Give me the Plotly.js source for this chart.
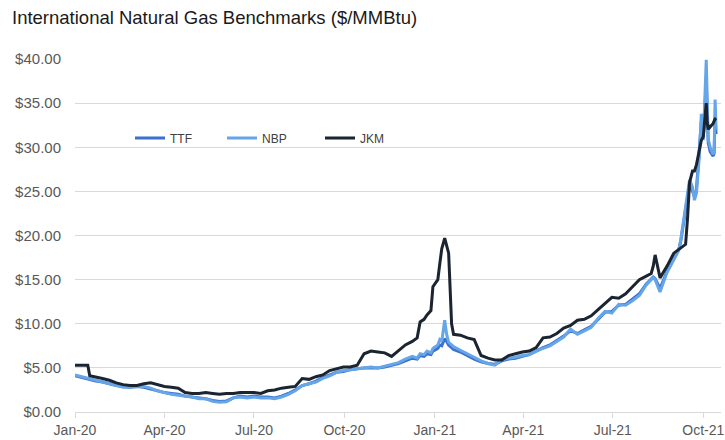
<!DOCTYPE html>
<html>
<head>
<meta charset="utf-8">
<script src="https://cdn.plot.ly/plotly-3.0.1.min.js"></script>
<style>html,body{margin:0;padding:0;background:#fff;}#chart{width:725px;height:440px;}</style>
</head>
<body>
<div id="chart"></div>
<script>
const dates = [
"2020-01-01","2020-01-08","2020-01-14","2020-01-16","2020-01-22","2020-01-29","2020-02-05","2020-02-12","2020-02-19","2020-02-26",
"2020-03-04","2020-03-11","2020-03-18","2020-03-25","2020-04-01","2020-04-08","2020-04-15","2020-04-22","2020-04-29","2020-05-06",
"2020-05-13","2020-05-20","2020-05-27","2020-06-03","2020-06-10","2020-06-17","2020-06-24","2020-07-01","2020-07-08","2020-07-15",
"2020-07-22","2020-07-29","2020-08-05","2020-08-12","2020-08-19","2020-08-26","2020-09-02","2020-09-09","2020-09-16","2020-09-23",
"2020-09-30","2020-10-07","2020-10-14","2020-10-21","2020-10-28","2020-11-04","2020-11-11","2020-11-18","2020-11-25","2020-12-02",
"2020-12-09","2020-12-14","2020-12-17","2020-12-21","2020-12-24","2020-12-28","2020-12-30",
"2021-01-04","2021-01-06","2021-01-08","2021-01-11","2021-01-13","2021-01-15","2021-01-18","2021-01-20","2021-01-27",
"2021-02-03","2021-02-10","2021-02-17","2021-02-24","2021-03-03","2021-03-10","2021-03-17","2021-03-24","2021-03-31",
"2021-04-07","2021-04-14","2021-04-21","2021-04-28","2021-05-05","2021-05-12","2021-05-19","2021-05-26","2021-06-02",
"2021-06-09","2021-06-16","2021-06-23","2021-06-30","2021-07-07","2021-07-14","2021-07-21","2021-07-28","2021-08-04",
"2021-08-09","2021-08-11","2021-08-13","2021-08-18","2021-08-25","2021-09-01","2021-09-06","2021-09-08","2021-09-13",
"2021-09-15","2021-09-17","2021-09-20","2021-09-22","2021-09-24","2021-09-27","2021-09-29","2021-10-01","2021-10-04",
"2021-10-05","2021-10-06","2021-10-07","2021-10-08","2021-10-11","2021-10-12","2021-10-13","2021-10-14"
];

const ttf = [
4.1,3.9,3.8,3.7,3.5,3.4,3.2,3.0,2.9,2.8,
2.9,2.8,2.6,2.4,2.2,2.1,2.0,1.8,1.7,1.6,
1.5,1.3,1.2,1.25,1.6,1.8,1.7,1.8,1.7,1.7,
1.6,1.8,2.1,2.5,3.0,3.2,3.5,3.9,4.2,4.5,
4.6,4.8,4.9,5.0,5.0,5.0,5.1,5.3,5.5,5.8,
6.1,6.0,6.4,6.3,6.6,6.5,6.9,
7.2,7.6,7.5,8.3,8.0,7.6,7.3,7.1,6.8,
6.4,6.0,5.7,5.5,5.4,5.8,6.0,6.1,6.3,
6.5,6.9,7.3,7.6,8.1,8.6,9.2,8.9,9.3,
9.7,10.5,11.3,11.4,12.1,12.2,12.8,13.4,14.5,
15.0,15.3,15.1,14.0,15.9,17.3,18.4,19.3,22.8,
24.5,25.8,25.0,24.5,25.2,29.5,33.0,31.0,37.5,
34.0,30.5,30.0,29.5,29.0,29.3,33.5,31.5
];

const nbp = [
4.2,4.0,3.9,3.8,3.6,3.4,3.2,3.0,2.8,2.8,
2.9,2.9,2.7,2.4,2.2,2.0,1.9,1.8,1.7,1.5,
1.5,1.2,1.1,1.15,1.6,1.7,1.6,1.7,1.6,1.6,
1.5,1.7,2.0,2.4,3.0,3.2,3.4,3.8,4.1,4.5,
4.7,4.8,4.9,5.0,5.1,5.0,5.2,5.4,5.6,6.0,
6.3,6.1,6.6,6.5,6.9,6.7,7.2,
7.6,8.2,8.0,10.4,8.8,7.9,7.6,7.4,7.0,
6.6,6.2,5.8,5.5,5.3,5.9,6.1,6.2,6.4,
6.5,6.9,7.2,7.5,8.0,8.5,9.4,8.8,9.2,
9.6,10.6,11.4,11.2,12.2,12.1,12.6,13.2,14.4,
15.0,15.2,15.0,13.6,15.8,17.2,18.3,19.5,23.6,
25.0,26.3,25.5,24.0,24.8,29.0,33.8,30.8,39.9,
34.6,30.8,30.5,30.0,29.2,29.5,35.4,32.0
];

const jkm = [
5.3,5.3,5.3,4.1,4.0,3.8,3.6,3.3,3.1,3.0,
3.0,3.2,3.3,3.1,2.9,2.8,2.7,2.2,2.1,2.1,
2.2,2.1,2.0,2.1,2.1,2.2,2.2,2.2,2.1,2.4,
2.5,2.7,2.8,2.9,3.8,3.7,4.0,4.2,4.7,4.9,
5.1,5.1,5.3,6.6,6.9,6.8,6.7,6.3,7.0,7.6,
8.0,8.4,10.2,10.5,11.0,11.5,14.2,
15.0,16.8,18.5,19.7,18.8,18.0,10.0,8.8,8.7,
8.4,8.2,6.4,6.1,5.9,5.9,6.4,6.6,6.8,
6.9,7.3,8.4,8.5,8.9,9.5,9.8,10.4,10.5,
10.9,11.6,12.3,13.0,12.9,13.4,14.2,15.0,15.4,
15.7,16.5,17.8,15.2,16.5,18.0,18.4,18.6,19.0,
22.0,26.0,27.3,27.3,28.0,29.5,30.8,31.2,35.0,
32.8,32.0,32.5,32.3,32.7,33.0,33.2,33.3
];

const seriesNames = ["TTF","NBP","JKM"];
const seriesColors = ["#3b6fd0","#64a6e8","#1b2431"];
const tickDates = ["2020-01-01","2020-04-01","2020-07-01","2020-10-01","2021-01-01","2021-04-01","2021-07-01","2021-10-01"];
const tickText = ["Jan-20","Apr-20","Jul-20","Oct-20","Jan-21","Apr-21","Jul-21","Oct-21"];
const yTicks = [0,5,10,15,20,25,30,35,40];
const yTickText = ["$0.00","$5.00","$10.00","$15.00","$20.00","$25.00","$30.00","$35.00","$40.00"];

const values = [ttf, nbp, jkm];
const legendIds = ["legend","legend2","legend3"];
const traces = values.map((v, i) => ({
  type: "scatter", mode: "lines", x: dates, y: v, name: seriesNames[i],
  line: {color: seriesColors[i], width: 3}, legend: legendIds[i]
}));

const FONT = "Liberation Sans, Arial, sans-serif";
const legendBase = {orientation: "h", y: 0.776, yanchor: "middle", xanchor: "left",
  bgcolor: "rgba(0,0,0,0)", font: {family: FONT, size: 12, color: "#404040"}, borderwidth: 0};

const layout = {
  width: 725, height: 440,
  margin: {l: 75, r: 4, t: 59, b: 28},
  paper_bgcolor: "#ffffff", plot_bgcolor: "#ffffff",
  font: {family: FONT, color: "#595959"},
  title: {text: "International Natural Gas Benchmarks ($/MMBtu)", x: 12/725, xref: "container", xanchor: "left",
          y: 1 - 18/440, yref: "container", yanchor: "middle", font: {family: FONT, size: 18.5, color: "#1a1a1a"}},
  xaxis: {type: "date", range: ["2020-01-01", "2021-10-19"], tickmode: "array", tickvals: tickDates, ticktext: tickText,
          showgrid: false, showline: true, linecolor: "#d9d9d9", linewidth: 1, ticks: "outside", ticklen: 5,
          tickcolor: "#d9d9d9", tickfont: {family: FONT, size: 14, color: "#595959"}, zeroline: false,
          ticklabeloverflow: "allow"},
  yaxis: {range: [0, 40], tickmode: "array", tickvals: yTicks, ticktext: yTickText, showgrid: true,
          gridcolor: "#d9d9d9", gridwidth: 1, zeroline: false, showline: false, ticks: "outside", ticklen: 10,
          tickcolor: "rgba(0,0,0,0)", tickfont: {family: FONT, size: 15, color: "#595959"}},
  legend: Object.assign({}, legendBase, {x: (130-75)/646}),
  legend2: Object.assign({}, legendBase, {x: (222-75)/646}),
  legend3: Object.assign({}, legendBase, {x: (320-75)/646}),
  showlegend: true
};

Plotly.newPlot("chart", traces, layout, {staticPlot: true, displayModeBar: false});
</script>
</body>
</html>
